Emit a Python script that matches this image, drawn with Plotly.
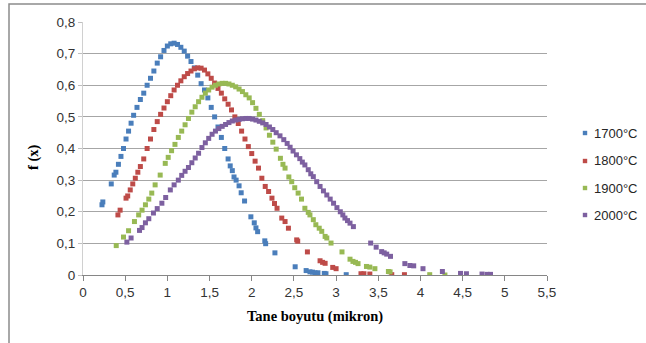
import plotly.graph_objects as go

# ---- data ----
x_1700 = [0.225, 0.235, 0.335, 0.37, 0.39, 0.42, 0.45, 0.48, 0.51, 0.54, 0.57, 0.60, 0.64, 0.68, 0.72,
          0.76, 0.80, 0.84, 0.88, 0.92, 0.96, 1.00, 1.04, 1.08, 1.12, 1.16, 1.20, 1.24, 1.28, 1.32,
          1.36, 1.40, 1.44, 1.48, 1.52, 1.56, 1.60, 1.64, 1.68, 1.72, 1.745, 1.77, 1.79, 1.815, 1.85,
          1.875, 1.915, 1.99, 2.03, 2.05, 2.07, 2.155, 2.165, 2.275, 2.515, 2.645, 2.69, 2.72, 2.75,
          2.785, 2.86, 2.88, 3.12]
y_1700 = [0.222, 0.231, 0.288, 0.316, 0.325, 0.35, 0.375, 0.40, 0.43, 0.455, 0.48, 0.505, 0.53, 0.555, 0.575,
          0.60, 0.622, 0.645, 0.67, 0.69, 0.71, 0.724, 0.731, 0.733, 0.729, 0.72, 0.708, 0.692, 0.675, 0.655,
          0.632, 0.605, 0.585, 0.56, 0.53, 0.50, 0.468, 0.435, 0.40, 0.367, 0.345, 0.33, 0.31, 0.30, 0.282,
          0.26, 0.234, 0.184, 0.165, 0.149, 0.137, 0.108, 0.099, 0.07, 0.026, 0.014, 0.010, 0.009, 0.007,
          0.007, 0.005, 0.004, 0.001]

x_1800 = [0.414, 0.44, 0.51, 0.53, 0.56, 0.59, 0.62, 0.65, 0.68, 0.72, 0.76, 0.80, 0.84, 0.88, 0.92,
          0.96, 1.00, 1.04, 1.08, 1.12, 1.16, 1.20, 1.24, 1.28, 1.32, 1.36, 1.40, 1.44, 1.48, 1.52,
          1.56, 1.60, 1.64, 1.68, 1.72, 1.76, 1.80, 1.84, 1.88, 1.92, 1.96, 2.00, 2.04, 2.08, 2.12,
          2.16, 2.20, 2.24, 2.27, 2.30, 2.356, 2.395, 2.435, 2.533, 2.545, 2.66, 2.81, 2.84, 2.87,
          2.96, 3.0, 3.295, 3.33, 3.40, 3.66, 3.81]
y_1800 = [0.19, 0.205, 0.243, 0.25, 0.269, 0.288, 0.306, 0.325, 0.343, 0.367, 0.40, 0.43, 0.46, 0.485, 0.508,
          0.528, 0.548, 0.567, 0.585, 0.60, 0.614, 0.627, 0.637, 0.645, 0.652, 0.655, 0.654, 0.648, 0.636, 0.622,
          0.607, 0.59, 0.575, 0.557, 0.54, 0.522, 0.50, 0.479, 0.455, 0.43, 0.406, 0.384, 0.36, 0.338, 0.306,
          0.28, 0.264, 0.243, 0.226, 0.211, 0.18, 0.169, 0.148, 0.111, 0.107, 0.073, 0.045, 0.04, 0.037,
          0.024, 0.02, 0.004, 0.004, 0.003, 0.001, 0.001]

x_1900 = [0.394, 0.48, 0.54, 0.61, 0.66, 0.70, 0.74, 0.78, 0.815, 0.855, 0.915, 0.975, 1.01, 1.05, 1.09,
          1.13, 1.17, 1.21, 1.25, 1.29, 1.33, 1.37, 1.41, 1.45, 1.49, 1.53, 1.57, 1.61, 1.65, 1.69,
          1.73, 1.77, 1.81, 1.85, 1.89, 1.93, 1.97, 2.01, 2.05, 2.09, 2.13, 2.17, 2.21, 2.25, 2.29,
          2.34, 2.37, 2.395, 2.44, 2.474, 2.51, 2.55, 2.59, 2.63, 2.67, 2.69, 2.73, 2.76, 2.80, 2.83,
          2.87, 2.89, 2.94, 3.07, 3.165, 3.20, 3.23, 3.26, 3.36, 3.40, 3.46, 3.62, 3.64, 4.11, 4.29]
y_1900 = [0.093, 0.12, 0.14, 0.169, 0.19, 0.205, 0.222, 0.24, 0.259, 0.285, 0.316, 0.353, 0.372, 0.393, 0.413,
          0.435, 0.455, 0.475, 0.495, 0.515, 0.532, 0.548, 0.562, 0.575, 0.585, 0.594, 0.60, 0.604, 0.606, 0.606,
          0.604, 0.60, 0.595, 0.588, 0.58, 0.57, 0.56, 0.545, 0.527, 0.508, 0.488, 0.465, 0.442, 0.42, 0.398,
          0.369, 0.35, 0.338, 0.31, 0.295, 0.276, 0.259, 0.24, 0.211, 0.198, 0.19, 0.175, 0.159, 0.148, 0.138,
          0.122, 0.117, 0.101, 0.073, 0.05, 0.043, 0.04, 0.036, 0.027, 0.025, 0.02, 0.011, 0.01, 0.001, 0.0]

x_2000 = [0.52, 0.57, 0.67, 0.70, 0.74, 0.78, 0.835, 0.88, 0.935, 0.98, 1.035, 1.08, 1.13, 1.17, 1.21,
          1.25, 1.29, 1.33, 1.37, 1.41, 1.45, 1.49, 1.53, 1.57, 1.61, 1.65, 1.69, 1.73, 1.77, 1.81,
          1.85, 1.89, 1.93, 1.97, 2.01, 2.05, 2.09, 2.13, 2.17, 2.21, 2.25, 2.29, 2.335, 2.38, 2.42,
          2.455, 2.49, 2.53, 2.57, 2.60, 2.63, 2.67, 2.70, 2.73, 2.77, 2.81, 2.85, 2.89, 2.93, 2.97,
          3.01, 3.05, 3.08, 3.105, 3.135, 3.165, 3.205, 3.41, 3.475, 3.54, 3.57, 3.60, 3.645, 3.815, 3.875,
          3.92, 4.03, 4.26, 4.475, 4.545, 4.73, 4.79, 4.83]
y_2000 = [0.104, 0.117, 0.141, 0.15, 0.165, 0.178, 0.196, 0.21, 0.227, 0.245, 0.269, 0.285, 0.30, 0.315, 0.328,
          0.34, 0.355, 0.37, 0.385, 0.403, 0.418, 0.432, 0.445, 0.455, 0.463, 0.47, 0.476, 0.482, 0.487, 0.49,
          0.492, 0.494, 0.495, 0.495, 0.493, 0.49, 0.486, 0.481, 0.476, 0.468, 0.46, 0.45, 0.44, 0.428, 0.416,
          0.404, 0.392, 0.38, 0.368, 0.357, 0.348, 0.333, 0.32, 0.311, 0.295, 0.28, 0.266, 0.253, 0.24, 0.227,
          0.213, 0.20, 0.19, 0.18, 0.172, 0.164, 0.153, 0.101, 0.088, 0.074, 0.07, 0.066, 0.059, 0.036, 0.03,
          0.029, 0.02, 0.011, 0.005, 0.004, 0.003, 0.002, 0.002]

series_names = ["1700°C", "1800°C", "1900°C", "2000°C"]
series_colors = ["#4A7EBB", "#BE4B48", "#98B954", "#7D60A0"]

x_ticks = [0, 0.5, 1, 1.5, 2, 2.5, 3, 3.5, 4, 4.5, 5, 5.5]
x_tick_labels = ["0", "0,5", "1", "1,5", "2", "2,5", "3", "3,5", "4", "4,5", "5", "5,5"]
y_ticks = [0, 0.1, 0.2, 0.3, 0.4, 0.5, 0.6, 0.7, 0.8]
y_tick_labels = ["0", "0,1", "0,2", "0,3", "0,4", "0,5", "0,6", "0,7", "0,8"]

xs = [x_1700, x_1800, x_1900, x_2000]
ys = [y_1700, y_1800, y_1900, y_2000]

fig = go.Figure()
for i, (xv, yv) in enumerate(zip(xs, ys)):
    fig.add_trace(go.Scatter(
        x=xv, y=yv, mode="markers", name=series_names[i], showlegend=False,
        marker=dict(symbol="square", size=5, color=series_colors[i], line=dict(width=0)),
    ))

tick_font = dict(family="Liberation Sans, Arial, sans-serif", size=13.5, color="#333333")

PL, PR, PT, PB = 83, 99, 22, 68
W, H = 646, 343
pw, ph = W - PL - PR, H - PT - PB

fig.update_layout(
    width=W, height=H,
    margin=dict(l=PL, r=PR, t=PT, b=PB, autoexpand=False),
    paper_bgcolor="white", plot_bgcolor="white",
    showlegend=False,
    xaxis=dict(range=[0, 5.5], tickvals=x_ticks, ticktext=x_tick_labels,
               showgrid=False, zeroline=False, showline=True, linecolor="#868686", linewidth=1,
               ticks="outside", ticklen=5, tickcolor="#868686", tickfont=tick_font),
    yaxis=dict(range=[0, 0.8], tickvals=y_ticks, ticktext=y_tick_labels,
               showgrid=True, gridcolor="#A6A6A6", gridwidth=1, zeroline=False,
               showline=True, linecolor="#D0D0D0", linewidth=1,
               ticks="outside", ticklen=4, tickcolor="#BFBFBF", tickfont=tick_font),
)

def px2paper(px, py):
    return (px - PL) / pw, (H - PB - py) / ph

# manual legend
legend_y_px = [133, 161, 188, 215]
for name, col, ly in zip(series_names, series_colors, legend_y_px):
    mx, my = px2paper(585, ly)
    hx, hy = 2.2 / pw, 2.2 / ph
    fig.add_shape(type="rect", xref="paper", yref="paper", x0=mx - hx, x1=mx + hx, y0=my - hy, y1=my + hy,
                  line=dict(width=0), fillcolor=col)
    tx, ty = px2paper(592, ly)
    fig.add_annotation(text=name, xref="paper", yref="paper", x=tx, y=ty, xanchor="left", yanchor="middle",
                       showarrow=False,
                       font=dict(family="Liberation Sans, Arial, sans-serif", size=13, color="#262626"))

# axis titles
tx, ty = px2paper(315, 316.5)
fig.add_annotation(text="<b>Tane boyutu (mikron)</b>", xref="paper", yref="paper",
                   x=tx, y=ty, xanchor="center", yanchor="middle", showarrow=False,
                   font=dict(family="Liberation Serif, Times New Roman, serif", size=14.5, color="black"))
tx, ty = px2paper(33, 157)
fig.add_annotation(text="<b>f (x)</b>", xref="paper", yref="paper",
                   x=tx, y=ty, xanchor="center", yanchor="middle", showarrow=False, textangle=-90,
                   font=dict(family="Liberation Serif, Times New Roman, serif", size=14.5, color="black"))

# chart-area border
bx0, by1 = px2paper(9, 4)
bx1, by0 = px2paper(660, 360)
fig.add_shape(type="rect", xref="paper", yref="paper", x0=bx0, x1=bx1, y0=by0, y1=by1,
              line=dict(color="#8C8C8C", width=1.5), fillcolor="rgba(0,0,0,0)", layer="below")

fig.write_html("out.html", config={"displayModeBar": False},
               post_script="document.body.style.margin='0';document.body.style.overflow='hidden';")
